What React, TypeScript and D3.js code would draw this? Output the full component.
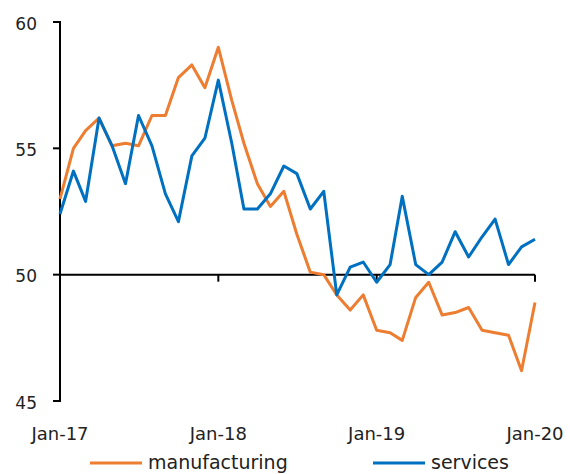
import React from "react";
import * as d3 from "d3";

const months = d3.range(37).map(i => new Date(2017, i, 1));

const manufacturing = [
  53.0, 55.0, 55.7, 56.2, 55.1, 55.2, 55.1, 56.3, 56.3, 57.8, 58.3, 57.4,
  59.0, 56.9, 55.2, 53.6, 52.7, 53.3, 51.6, 50.1, 50.0, 49.2, 48.6, 49.2,
  47.8, 47.7, 47.4, 49.1, 49.7, 48.4, 48.5, 48.7, 47.8, 47.7, 47.6, 46.2,
  48.9
];

const services = [
  52.4, 54.1, 52.9, 56.2, 55.1, 53.6, 56.3, 55.1, 53.2, 52.1, 54.7, 55.4,
  57.7, 55.2, 52.6, 52.6, 53.2, 54.3, 54.0, 52.6, 53.3, 49.2, 50.3, 50.5,
  49.7, 50.4, 53.1, 50.4, 50.0, 50.5, 51.7, 50.7, 51.5, 52.2, 50.4, 51.1,
  51.4
];

const yTicks = [45, 50, 55, 60];
const xTicks = [new Date(2017, 0, 1), new Date(2018, 0, 1), new Date(2019, 0, 1), new Date(2020, 0, 1)];

const series = [
  { name: "manufacturing", values: manufacturing, color: "#ED7D31" },
  { name: "services", values: services, color: "#0070C0" }
];

const width = 570;
const height = 474;
const margin = { left: 60, right: 35, top: 22, bottom: 73 };
const font = "'DejaVu Sans', sans-serif";

export default function App() {
  const x = d3
    .scaleTime()
    .domain([months[0], months[months.length - 1]])
    .range([margin.left, width - margin.right]);
  const y = d3
    .scaleLinear()
    .domain([45, 60])
    .range([height - margin.bottom, margin.top]);

  const line = (vals: number[]) =>
    d3
      .line<number>()
      .x((_, i) => x(months[i]))
      .y(d => y(d))(vals) || "";

  const y50 = y(50);
  const fmt = d3.timeFormat("%b-%y");

  return (
    <svg width={width} height={height} style={{ position: "absolute", left: 0, top: 0 }}>
      {/* y axis */}
      <line x1={margin.left} x2={margin.left} y1={y(60) - 1} y2={y(45) + 1} stroke="#000" strokeWidth={2} />
      {yTicks.map(t => (
        <g key={t}>
          <line x1={margin.left - 7} x2={margin.left} y1={y(t)} y2={y(t)} stroke="#000" strokeWidth={2} />
          <text x={37} y={y(t) + 7.5} textAnchor="end" fontSize={17} fontFamily={font} fill="#222">
            {t}
          </text>
        </g>
      ))}
      {/* x axis at 50 */}
      <line x1={margin.left} x2={width - margin.right} y1={y50} y2={y50} stroke="#000" strokeWidth={2} />
      {xTicks.map((t, i) => (
        <g key={i}>
          {i > 0 && <line x1={x(t)} x2={x(t)} y1={y50} y2={y50 + 7} stroke="#000" strokeWidth={2} />}
          <text x={x(t)} y={440} textAnchor="middle" fontSize={18} fontFamily={font} fill="#222">
            {fmt(t)}
          </text>
        </g>
      ))}
      {series.map(s => (
        <path key={s.name} d={line(s.values)} fill="none" stroke={s.color} strokeWidth={3} strokeLinejoin="round" />
      ))}
      {/* legend */}
      <g>
        <line x1={90} x2={142} y1={463} y2={463} stroke={series[0].color} strokeWidth={3} />
        <text x={148} y={469} fontSize={19} fontFamily={font} fill="#222">manufacturing</text>
        <line x1={373} x2={425} y1={463} y2={463} stroke={series[1].color} strokeWidth={3} />
        <text x={431} y={469} fontSize={19} fontFamily={font} fill="#222">services</text>
      </g>
    </svg>
  );
}
